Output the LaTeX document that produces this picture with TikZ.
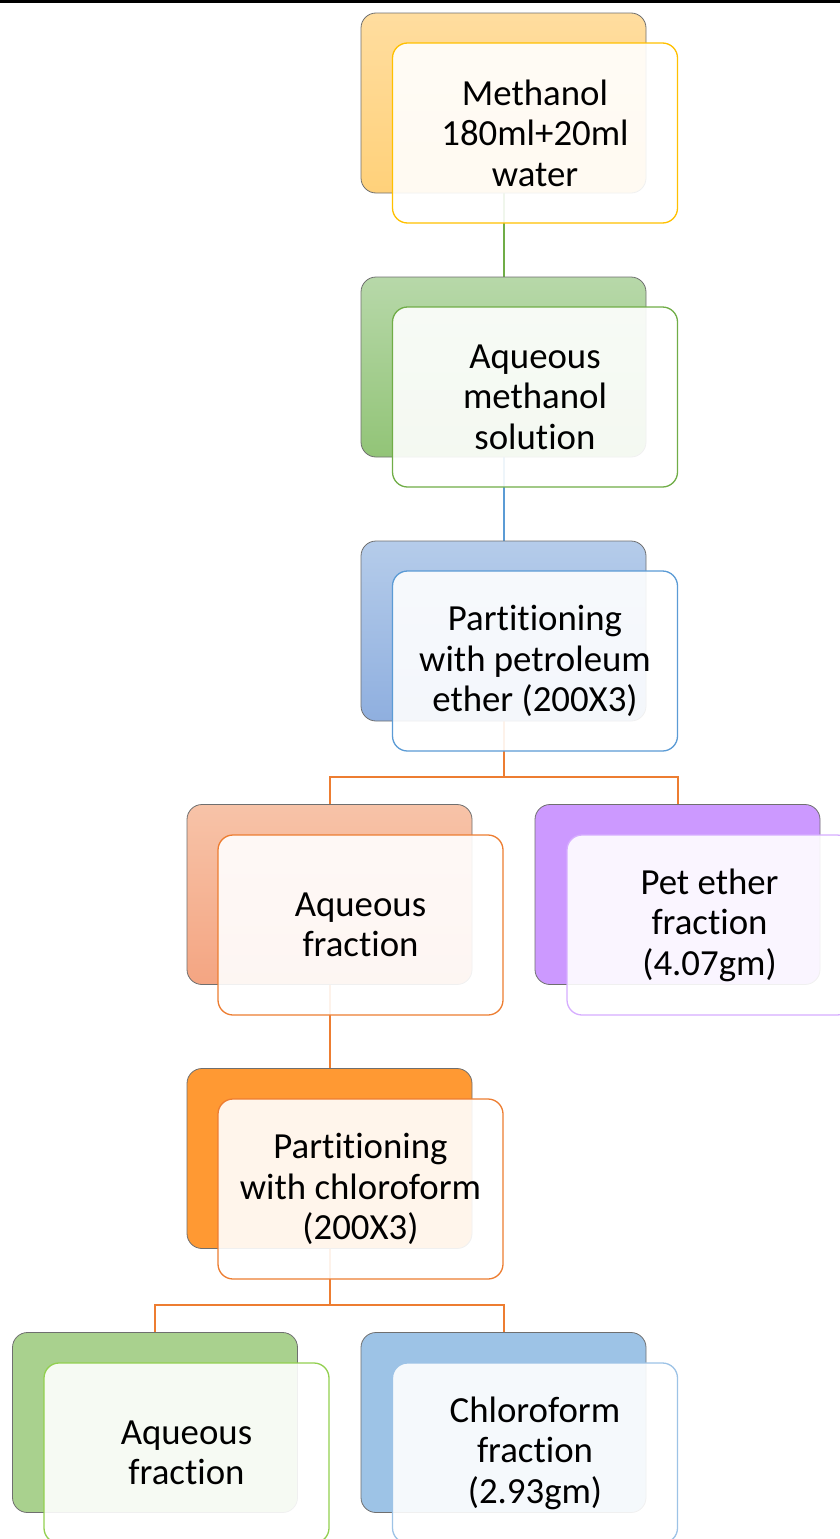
\documentclass[tikz,border=0pt]{standalone}
\usepackage{fontspec}
\setmainfont{Carlito}[Ligatures={NoCommon}]
\usetikzlibrary{positioning}
\pgfdeclarelayer{bg}
\pgfsetlayers{bg,main}
\definecolor{goldline}{HTML}{FFC000}
\definecolor{greenline}{HTML}{70AD47}
\definecolor{blueline}{HTML}{5B9BD5}
\definecolor{orangeline}{HTML}{ED7D31}
\definecolor{lilacline}{HTML}{CC99FF}
\definecolor{limeline}{HTML}{92D050}
\definecolor{skyline}{HTML}{9DC3E6}
\definecolor{edgegray}{HTML}{6F6F6F}
\definecolor{goldtop}{HTML}{FFDD9F}
\definecolor{goldbot}{HTML}{FFD17A}
\definecolor{greentop}{HTML}{B7D8A9}
\definecolor{greenbot}{HTML}{92C477}
\definecolor{bluetop}{HTML}{B5CCEA}
\definecolor{bluebot}{HTML}{8FAFDF}
\definecolor{salmontop}{HTML}{F7C3A8}
\definecolor{salmonbot}{HTML}{F4A582}
\definecolor{deeporange}{HTML}{FF9933}
\definecolor{leafgreen}{HTML}{A9D18E}
% keeps t and i apart (Carlito joins them)
\newcommand{\tisplit}{\kern0pt }

\begin{document}
\begin{tikzpicture}[x=1pt,y=-1pt,
	back/.style={draw=edgegray, line width=0.8pt, rounded corners=15pt, minimum width=285pt, minimum height=180pt, inner sep=0pt},
	front/.style={line width=1.3pt, rounded corners=15pt, minimum width=285pt, minimum height=180pt, inner sep=0pt,
		fill=white, fill opacity=0.9, text opacity=1, align=center, font=\fontsize{36.8}{40.5}\selectfont},
	link/.style={line width=2pt}]
			\useasboundingbox (0,0) rectangle (840,1539);
			\draw[line width=3pt] (0,1.5) -- (840,1.5);
			% first column
			\node[back, top color=goldtop, bottom color=goldbot] (meth) at (503.5,103) {};
			\node[front, draw=goldline] (methtxt) at (535,133) {Methanol\\180ml+20ml\\water};
			\node[back, top color=greentop, bottom color=greenbot] (aqm) at (503.5,367) {};
			\node[front, draw=greenline] (aqmtxt) at (535,397) {Aqueous\\methanol\\solution};
			\node[back, top color=bluetop, bottom color=bluebot] (pet) at (503.5,631) {};
			\node[front, draw=blueline] (pettxt) at (535,661) {Part\tisplit it\tisplit ioning\\with petroleum\\ether (200X3)};
			% petroleum ether split
			\node[back, top color=salmontop, bottom color=salmonbot] (aqf) at (329.5,894.5) {};
			\node[front, draw=orangeline] (aqftxt) at (360.5,925) {Aqueous\\fraction};
			\node[back, fill=lilacline] (pef) at (677.5,894.5) {};
			\node[front, draw=lilacline!80] (peftxt) at (709.5,925) {Pet ether\\fraction\\(4.07gm)};
			\node[back, fill=deeporange] (chl) at (329.5,1158.5) {};
			\node[front, draw=orangeline] (chltxt) at (360.5,1189) {Part\tisplit it\tisplit ioning\\with chloroform\\(200X3)};
			% chloroform split
			\node[back, fill=leafgreen] (aqf2) at (155,1422.5) {};
			\node[front, draw=limeline] (aqf2txt) at (186.5,1453) {Aqueous\\fraction};
			\node[back, fill=skyline] (chf) at (503.5,1422.5) {};
			\node[front, draw=skyline] (chftxt) at (535,1453) {Chloroform\\fraction\\(2.93gm)};
			\begin{pgfonlayer}{bg}
			\draw[link, greenline] (meth.south) -- (aqm.north);
			\draw[link, blueline] (aqm.south) -- (pet.north);
			\draw[link, orangeline] (pet.south) -- ++(0,56) -| (aqf.north);
			\draw[link, orangeline] (pet.south) -- ++(0,56) -| (pef.north);
			\draw[link, orangeline] (aqf.south) -- (chl.north);
			\draw[link, orangeline] (chl.south) -- ++(0,56) -| (aqf2.north);
			\draw[link, orangeline] (chl.south) -- ++(0,56) -| (chf.north);
			\end{pgfonlayer}
		\end{tikzpicture}
\end{document}
